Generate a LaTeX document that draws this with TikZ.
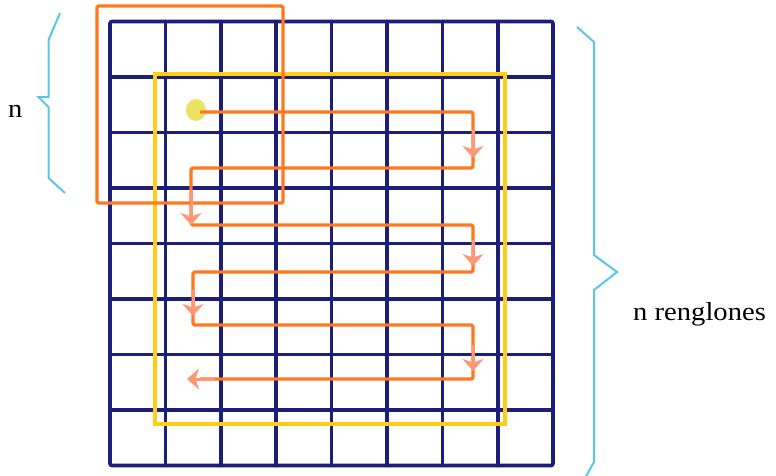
\documentclass[tikz,border=0pt]{standalone}
\usepackage{fontspec}
\setmainfont{Liberation Serif}
\usetikzlibrary{arrows.meta}
\definecolor{navy}{RGB}{28,30,122}
\definecolor{orng}{RGB}{255,120,30}
\definecolor{ylw}{RGB}{255,206,20}
\definecolor{cyanb}{RGB}{88,198,234}
\definecolor{salmon}{RGB}{255,150,118}
\definecolor{dotc}{RGB}{236,226,100}
\tikzset{
  gridline/.style={draw=navy,line width=3.6pt,line cap=round},
  gridframe/.style={draw=navy,line width=3.6pt,rounded corners=2pt},
  orect/.style={draw=orng,line width=3.4pt,rounded corners=1.5pt},
  yrect/.style={draw=ylw,line width=3.6pt},
  opath/.style={draw=orng,line width=3.3pt,line join=round,rounded corners=2pt},
  sarrow/.style={draw=salmon,line width=3pt,-{Stealth[length=12pt,width=21pt,inset=3.5pt]}},
  bracestyle/.style={draw=cyanb,line width=2pt,line join=miter},
  lbl/.style={font=\fontsize{26}{30}\selectfont,inner sep=0pt,anchor=base west,xscale=1.1}
}
\begin{document}
\begin{tikzpicture}[x=1pt,y=-1pt]
\useasboundingbox (0,0) rectangle (776,475);
% grid
\foreach \i in {1,...,7} {
  \draw[gridline] ({110+\i*55.4},21.5) -- ({110+\i*55.4},465.5);
  \draw[gridline] (110,{21.5+\i*55.5}) -- (553,{21.5+\i*55.5});
}
\draw[gridframe] (110,21.5) rectangle (553,465.5);
% yellow and orange windows
\draw[yrect] (155,74) rectangle (505,424);
\draw[orect] (97,6) rectangle (283,203);
% start dot
\fill[dotc] (196,110) ellipse [x radius=10, y radius=11];
% traversal path
\coordinate (p0) at (200,112);
\coordinate (p1) at (473,112);
\coordinate (p2) at (473,168);
\coordinate (p3) at (191,168);
\coordinate (p4) at (191,225);
\coordinate (p5) at (473,225);
\coordinate (p6) at (473,272);
\coordinate (p7) at (193,272);
\coordinate (p8) at (193,325);
\coordinate (p9) at (473,325);
\coordinate (p10) at (473,379);
\coordinate (p11) at (200,379);
\draw[opath] (p0) -- (p1) -- (p2) -- (p3) -- (p4) -- (p5) -- (p6) -- (p7) -- (p8) -- (p9) -- (p10) -- (p11);
\draw[sarrow] (473,130) -- (473,158);
\draw[sarrow] (191,190) -- (191,225);
\draw[sarrow] (473,240) -- (473,266);
\draw[sarrow] (193,290) -- (193,316);
\draw[sarrow] (473,345) -- (473,371);
\draw[sarrow] (215,379) -- (187,379);
% braces
\draw[bracestyle] (60,13) -- (48.5,40) -- (48.5,97) -- (38.5,97) -- (48.5,107) -- (48.5,178) -- (65,193);
\draw[bracestyle] (577,27) -- (594,42) -- (594,255) -- (617,272) -- (594,290) -- (594,462) -- (585,478);
% labels
\node[lbl] (nlab) at (8,117.5) {n};
\node[lbl] (nren) at (633,320) {n renglones};
\end{tikzpicture}
\end{document}
